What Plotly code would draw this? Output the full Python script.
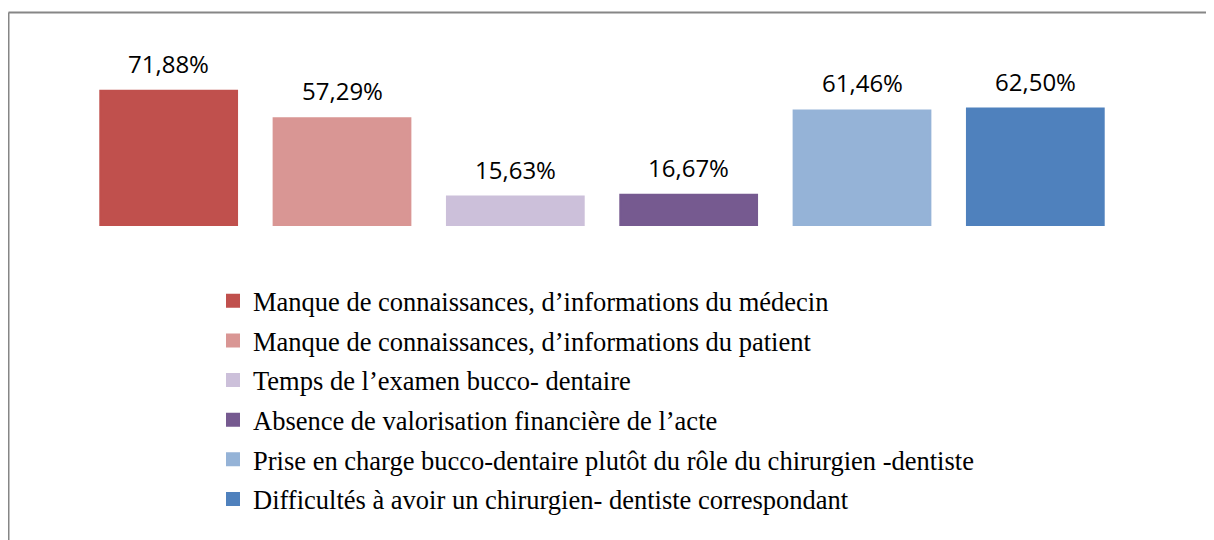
import plotly.graph_objects as go

categories = [
    "Manque de connaissances, d\u2019informations du médecin",
    "Manque de connaissances, d\u2019informations du patient",
    "Temps de l\u2019examen bucco- dentaire",
    "Absence de valorisation financière de l\u2019acte",
    "Prise en charge bucco-dentaire plutôt du rôle du chirurgien -dentiste",
    "Difficultés à avoir un chirurgien- dentiste correspondant",
]
values = [71.88, 57.29, 15.63, 16.67, 61.46, 62.50]
labels = ["71,88%", "57,29%", "15,63%", "16,67%", "61,46%", "62,50%"]
colors = ["#C0504D", "#D99694", "#CCC0DA", "#765A90", "#95B3D7", "#4F81BD"]

# page has an 8px body margin, so figure coords = picture coords - 8
OFF = 8
W, H = 1214, 540
ML, MR, MT, MB = 74, 100, 77, 322
PW, PH = W - ML - MR, H - MT - MB


def px_x(x):
    return (x - OFF - ML) / PW


def px_y(y):
    return (H - (y - OFF) - MB) / PH


fig = go.Figure()
for i, (cat, val, lab, col) in enumerate(zip(categories, values, labels, colors)):
    fig.add_trace(
        go.Bar(
            x=[i],
            y=[val],
            name=cat,
            width=0.789,
            marker={"color": col, "line": {"width": 2, "color": col}},
            legendgroup=f"g{i}",
        )
    )
    fig.add_annotation(
        x=i, y=val, text=lab, showarrow=False,
        xanchor="center", yanchor="bottom", yshift=9,
        font={"family": "Open Sans", "size": 24, "color": "#000000"},
    )

# chart frame (top and left edges visible)
fig.add_shape(type="line", xref="paper", yref="paper",
              x0=px_x(8.5), x1=px_x(W + 20), y0=px_y(12.5), y1=px_y(12.5),
              line={"color": "#868686", "width": 2})
fig.add_shape(type="line", xref="paper", yref="paper",
              x0=px_x(8.5), x1=px_x(8.5), y0=px_y(12.5), y1=px_y(H + 20),
              line={"color": "#868686", "width": 2})

fig.update_layout(
    width=W,
    height=H,
    margin={"l": ML, "r": MR, "t": MT, "b": MB, "pad": 0},
    paper_bgcolor="white",
    plot_bgcolor="white",
    barmode="overlay",
    xaxis={"range": [-0.5, 5.5], "visible": False},
    yaxis={"range": [0, 75], "visible": False},
    showlegend=True,
    legend={
        "x": px_x(213),
        "y": px_y(277),
        "xanchor": "left",
        "yanchor": "top",
        "font": {"family": "Liberation Serif", "size": 26.5, "color": "#000000"},
        "tracegroupgap": 2.2,
        "itemsizing": "constant",
        "bgcolor": "rgba(0,0,0,0)",
    },
)

fig.write_html("out.html")
